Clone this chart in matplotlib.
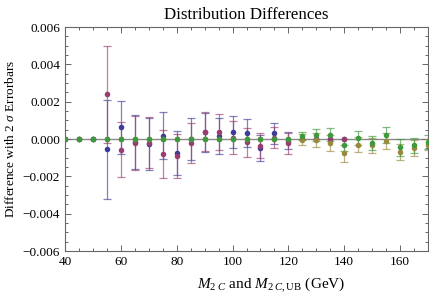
import numpy as np
import matplotlib
matplotlib.use("Agg")
import matplotlib.pyplot as plt
from matplotlib.ticker import MultipleLocator, FixedLocator

plt.rcParams['font.family'] = ['Liberation Serif', 'DejaVu Serif']
plt.rcParams['mathtext.fontset'] = 'custom'
plt.rcParams['mathtext.rm'] = 'Liberation Serif'
plt.rcParams['mathtext.it'] = 'Liberation Serif:italic'
plt.rcParams['mathtext.bf'] = 'Liberation Serif:bold'

# ---- data (values in units of 1e-3) ----
mass_a = np.arange(40, 141, 5)   # M2C series (blue, magenta)
mass_b = np.arange(40, 171, 5)   # M2C,UB series (olive, green)

blue_vals = [0, 0, 0, -0.55, 0.64, -0.15, -0.27, 0.18, -0.73, 0.0, 0.35, 0.18, 0.37, 0.32, -0.50, 0.30, -0.10,
             0, 0, 0, 0]
blue_errs = [0, 0, 0, 2.65, 1.42, 1.45, 1.37, 1.25, 1.18, 1.11, 1.04, 0.96, 0.86, 0.77, 0.69, 0.55, 0.45,
             0, 0, 0, 0]

magenta_vals = [0, 0, 0, 2.40, -0.57, -0.20, -0.20, -0.80, -0.89, -0.20, 0.39, 0.39, 0.08, -0.18, -0.35, 0.08, -0.24,
                0, 0, 0, 0]
magenta_errs = [0, 0, 0, 2.60, 1.46, 1.45, 1.37, 1.28, 1.18, 1.08, 1.04, 0.96, 0.86, 0.78, 0.67, 0.56, 0.56,
                0, 0, 0, 0]

olive_vals = [0, 0, 0, 0, 0, 0, 0, 0, 0, 0, 0, 0, 0, 0, 0, 0, 0,
              -0.04, -0.05, -0.21, -0.77, -0.30, -0.33, -0.12, -0.68, -0.48, -0.30]
olive_errs = [0, 0, 0, 0, 0, 0, 0, 0, 0, 0, 0, 0, 0, 0, 0, 0, 0,
              0.29, 0.38, 0.41, 0.46, 0.39, 0.40, 0.43, 0.42, 0.45, 0.30]

green_vals = [0, 0, 0, 0, 0, 0, 0, 0, 0, 0, 0, 0, 0, 0, 0, 0, 0,
              0.15, 0.22, 0.23, -0.34, 0.05, -0.20, 0.21, -0.44, -0.34, -0.15]
green_errs = [0, 0, 0, 0, 0, 0, 0, 0, 0, 0, 0, 0, 0, 0, 0, 0, 0,
              0.22, 0.32, 0.36, 0.32, 0.39, 0.37, 0.42, 0.45, 0.42, 0.37]

series = [
    (mass_a, blue_vals, blue_errs, '#3d3d99'),
    (mass_a, magenta_vals, magenta_errs, '#993d70'),
    (mass_b, olive_vals, olive_errs, '#99893d'),
    (mass_b, green_vals, green_errs, '#3d993d'),
]

fig = plt.figure(figsize=(4.29, 2.98), dpi=100)
ax = fig.add_axes([65/429, 1-251/298, (428-65)/429, (251-27)/298])

ax.axhline(0, color='#8a8a8a', lw=1.0, zorder=1)

for xs, vals, errs, col in series:
    v = np.array(vals) * 1e-3
    e = np.array(errs) * 1e-3
    m = e > 0
    ax.errorbar(xs[m], v[m], yerr=e[m], fmt='none', ecolor=col, elinewidth=0.9,
                capsize=2.6, capthick=0.9, alpha=0.65, zorder=2)
    ax.plot(xs, v, 'o', color=col, ms=4.0, mec='none', zorder=3)

ax.set_xlim(40, 170)
ax.set_ylim(-0.006, 0.006)
ax.xaxis.set_major_locator(FixedLocator([40, 60, 80, 100, 120, 140, 160]))
ax.xaxis.set_minor_locator(MultipleLocator(5))
ax.yaxis.set_major_locator(MultipleLocator(0.002))
ax.yaxis.set_minor_locator(MultipleLocator(0.0005))
ax.yaxis.set_major_formatter(matplotlib.ticker.FuncFormatter(
    lambda val, pos: ('\u2212' if val < -1e-12 else '') + f"{abs(val):.3f}"))

ax.tick_params(which='both', direction='in', top=True, right=True, colors='#666666',
               labelcolor='black', labelsize=9.5, width=0.7)
ax.tick_params(which='major', length=4)
ax.tick_params(which='minor', length=2)
for s in ax.spines.values():
    s.set_color('#666666')
    s.set_linewidth(0.8)

ax.set_title('Distribution Differences', fontsize=12.2, pad=6)
ax.set_ylabel(r'Difference with 2 $\sigma$ Errorbars', fontsize=9.5, labelpad=4)
ax.set_xlabel(r'$M_{2\;C}$ and $M_{2\;C,\mathrm{UB}}$ (GeV)', fontsize=11)
ax.xaxis.set_label_coords(0.567, -0.11)

fig.savefig('out.png', dpi=100)
